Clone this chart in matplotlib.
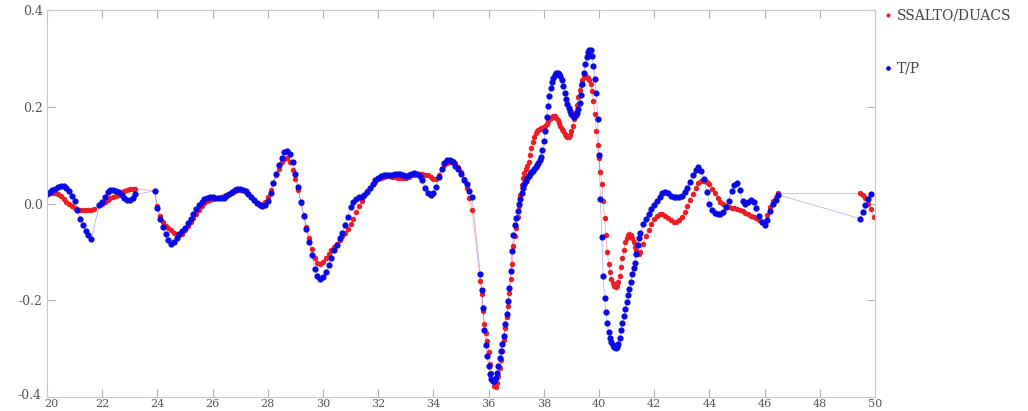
import numpy as np
import matplotlib
matplotlib.use("Agg")
import matplotlib.pyplot as plt
from matplotlib.transforms import ScaledTranslation

plt.rcParams['font.family'] = ['DejaVu Serif', 'Liberation Serif']
plt.rcParams['axes.unicode_minus'] = False

# along-track segments: start latitude and spacing (deg)
seg_start = [20.0, 21.9, 23.9, 35.7, 41.6, 49.45]
seg_step = [0.1, 0.1, 0.1, 0.05, 0.1, 0.1]

# SSALTO/DUACS sea level anomaly (m), one list per segment
duacs_1 = [0.020, 0.022, 0.022, 0.021, 0.019, 0.016, 0.010, 0.004, -0.002, -0.006,
           -0.009, -0.011, -0.013, -0.013, -0.014, -0.013, -0.013, -0.012]
duacs_2 = [-0.003, 0.000, 0.004, 0.008, 0.011, 0.014, 0.016, 0.018, 0.022, 0.026,
           0.028, 0.030, 0.031, 0.031]
duacs_3 = [0.026, -0.005, -0.025, -0.038, -0.046, -0.050, -0.055, -0.060, -0.064, -0.066,
           -0.062, -0.055, -0.047, -0.039, -0.030, -0.021, -0.013, -0.005, 0.001, 0.005,
           0.008, 0.010, 0.011, 0.012, 0.014, 0.016, 0.017, 0.019, 0.022, 0.025,
           0.027, 0.028, 0.027, 0.024, 0.019, 0.013, 0.007, 0.002, -0.002, -0.003,
           0.003, 0.014, 0.028, 0.043, 0.058, 0.072, 0.085, 0.093, 0.094, 0.086,
           0.070, 0.050, 0.027, 0.002, -0.024, -0.048, -0.072, -0.094, -0.112, -0.122,
           -0.125, -0.121, -0.113, -0.105, -0.097, -0.090, -0.083, -0.076, -0.068, -0.060,
           -0.052, -0.043, -0.032, -0.018, -0.006, 0.006, 0.017, 0.026, 0.033, 0.040,
           0.045, 0.050, 0.053, 0.055, 0.056, 0.056, 0.055, 0.054, 0.053, 0.052,
           0.052, 0.053, 0.055, 0.058, 0.060, 0.062, 0.062, 0.062, 0.060, 0.058,
           0.055, 0.050, 0.050, 0.060, 0.072, 0.080, 0.084, 0.086, 0.087, 0.084,
           0.076, 0.065, 0.050, 0.033, 0.012, -0.013]
duacs_4 = [-0.160, -0.186, -0.222, -0.250, -0.268, -0.285, -0.307, -0.331, -0.350, -0.366,
           -0.377, -0.379, -0.370, -0.356, -0.340, -0.324, -0.305, -0.282, -0.258, -0.235,
           -0.212, -0.185, -0.155, -0.124, -0.088, -0.068, -0.050, -0.028, -0.005, 0.018,
           0.038, 0.053, 0.063, 0.071, 0.078, 0.086, 0.100, 0.115, 0.128, 0.138,
           0.145, 0.150, 0.152, 0.154, 0.156, 0.157, 0.158, 0.160, 0.165, 0.170,
           0.174, 0.177, 0.179, 0.181, 0.181, 0.177, 0.172, 0.166, 0.161, 0.155,
           0.149, 0.143, 0.139, 0.137, 0.138, 0.142, 0.149, 0.160, 0.175, 0.190,
           0.204, 0.220, 0.235, 0.246, 0.255, 0.261, 0.263, 0.262, 0.259, 0.256,
           0.248, 0.232, 0.212, 0.185, 0.150, 0.120, 0.095, 0.065, 0.040, 0.005,
           -0.030, -0.065, -0.100, -0.125, -0.142, -0.155, -0.165, -0.171, -0.173, -0.171,
           -0.162, -0.150, -0.132, -0.113, -0.097, -0.080, -0.072, -0.065, -0.062, -0.065,
           -0.072, -0.080, -0.089, -0.097, -0.103, -0.104, -0.100]
duacs_5 = [-0.083, -0.067, -0.054, -0.042, -0.033, -0.025, -0.021, -0.021, -0.025, -0.029,
           -0.034, -0.038, -0.038, -0.035, -0.028, -0.018, -0.006, 0.008, 0.020, 0.033,
           0.042, 0.046, 0.046, 0.044, 0.040, 0.031, 0.021, 0.011, 0.004, -0.001,
           -0.005, -0.008, -0.009, -0.010, -0.011, -0.013, -0.016, -0.019, -0.022, -0.025,
           -0.027, -0.030, -0.034, -0.038, -0.038, -0.024, -0.008, 0.005, 0.014, 0.021]
duacs_6 = [0.021, 0.018, 0.012, 0.000, -0.012, -0.027]

# T/P sea level anomaly (m)
tp_1 = [0.020, 0.024, 0.028, 0.031, 0.034, 0.036, 0.036, 0.032, 0.026, 0.016,
        0.005, -0.014, -0.031, -0.045, -0.057, -0.066, -0.073]
tp_2 = [-0.003, 0.004, 0.014, 0.024, 0.028, 0.028, 0.026, 0.023, 0.018, 0.012,
        0.008, 0.007, 0.012, 0.019]
tp_3 = [0.026, -0.010, -0.033, -0.048, -0.064, -0.076, -0.083, -0.080, -0.072, -0.064,
        -0.057, -0.050, -0.041, -0.032, -0.022, -0.012, -0.004, 0.004, 0.009, 0.012,
        0.014, 0.014, 0.012, 0.011, 0.011, 0.012, 0.016, 0.020, 0.024, 0.027,
        0.029, 0.030, 0.028, 0.025, 0.020, 0.014, 0.007, 0.001, -0.004, -0.006,
        -0.003, 0.005, 0.022, 0.043, 0.062, 0.080, 0.095, 0.106, 0.109, 0.102,
        0.085, 0.062, 0.035, 0.003, -0.025, -0.052, -0.080, -0.106, -0.135, -0.150,
        -0.157, -0.152, -0.142, -0.128, -0.113, -0.097, -0.085, -0.072, -0.060, -0.045,
        -0.027, -0.008, 0.004, 0.010, 0.013, 0.014, 0.017, 0.024, 0.032, 0.041,
        0.048, 0.053, 0.057, 0.059, 0.059, 0.059, 0.060, 0.061, 0.062, 0.061,
        0.058, 0.056, 0.058, 0.061, 0.063, 0.062, 0.057, 0.048, 0.033, 0.021,
        0.017, 0.022, 0.035, 0.054, 0.072, 0.083, 0.089, 0.090, 0.086, 0.078,
        0.072, 0.062, 0.049, 0.040, 0.026, 0.014]
tp_4 = [-0.145, -0.178, -0.215, -0.262, -0.292, -0.315, -0.335, -0.352, -0.362, -0.367,
        -0.366, -0.360, -0.350, -0.336, -0.320, -0.305, -0.290, -0.273, -0.250, -0.228,
        -0.202, -0.175, -0.140, -0.098, -0.066, -0.044, -0.030, -0.015, 0.000, 0.010,
        0.022, 0.033, 0.041, 0.047, 0.053, 0.057, 0.061, 0.065, 0.068, 0.072,
        0.076, 0.080, 0.084, 0.089, 0.096, 0.110, 0.130, 0.150, 0.178, 0.202,
        0.222, 0.238, 0.251, 0.260, 0.266, 0.270, 0.270, 0.268, 0.263, 0.255,
        0.242, 0.229, 0.217, 0.206, 0.198, 0.192, 0.186, 0.181, 0.179, 0.182,
        0.188, 0.196, 0.208, 0.224, 0.248, 0.270, 0.288, 0.302, 0.313, 0.318,
        0.317, 0.306, 0.285, 0.258, 0.228, 0.175, 0.100, 0.010, -0.070, -0.150,
        -0.195, -0.225, -0.248, -0.266, -0.277, -0.287, -0.293, -0.297, -0.298, -0.296,
        -0.290, -0.279, -0.262, -0.246, -0.232, -0.218, -0.204, -0.190, -0.177, -0.162,
        -0.146, -0.134, -0.122, -0.105, -0.085, -0.072, -0.060]
tp_5 = [-0.042, -0.031, -0.022, -0.012, -0.003, 0.005, 0.014, 0.021, 0.024, 0.022,
        0.016, 0.013, 0.013, 0.014, 0.016, 0.024, 0.033, 0.045, 0.060, 0.070,
        0.075, 0.068, 0.050, 0.024, 0.000, -0.013, -0.020, -0.022, -0.022, -0.018,
        -0.008, 0.006, 0.025, 0.038, 0.042, 0.028, 0.006, -0.001, 0.004, 0.007,
        0.004, -0.010, -0.026, -0.038, -0.044, -0.034, -0.016, -0.002, 0.008, 0.018]
tp_6 = [-0.031, -0.018, -0.003, 0.010, 0.020]


def track(segments):
    lat, sla = [], []
    for s0, ds, vals in zip(seg_start, seg_step, segments):
        lat.extend(np.round(s0 + ds * np.arange(len(vals)), 3))
        sla.extend(vals)
    return np.array(lat), np.array(sla)


lat_d, sla_d = track([duacs_1, duacs_2, duacs_3, duacs_4, duacs_5, duacs_6])
lat_t, sla_t = track([tp_1, tp_2, tp_3, tp_4, tp_5, tp_6])

red = '#ee1c24'
blue = '#0a0ae6'

fig = plt.figure(figsize=(10.28, 4.11), dpi=100)
ax = fig.add_axes([0.0457, 0.034, 0.8055, 0.9416])

ax.plot(lat_d, sla_d, '-', color=red, lw=0.5, alpha=0.45)
ax.plot(lat_t, sla_t, '-', color=blue, lw=0.5, alpha=0.35)
ax.plot(lat_d, sla_d, 'o', color=red, ms=3.9, mew=0, label='SSALTO/DUACS')
ax.plot(lat_t, sla_t, 'o', color=blue, ms=4.5, mew=0, label='T/P')

ax.set_xlim(20, 50)
ax.set_ylim(-0.4, 0.4)
ax.set_xticks(np.arange(20, 51, 2))
ax.set_yticks([-0.4, -0.2, 0.0, 0.2, 0.4])
ax.yaxis.set_major_formatter(matplotlib.ticker.FormatStrFormatter('%.1f'))
ax.tick_params(direction='in', length=6, width=0.8, color='#b0b0b0',
               labelsize=9, labelcolor='#555555', top=True, right=True, pad=3)
ax.tick_params(axis='x', labelsize=8, pad=1.5)
for sp in ax.spines.values():
    sp.set_color('#c8c8c8')
    sp.set_linewidth(0.8)

# corner labels: keep "-0.4" and "20" apart
fig.canvas.draw()
lab_y = ax.get_yticklabels()[0]
lab_y.set_transform(lab_y.get_transform() + ScaledTranslation(-0.01, 0.03, fig.dpi_scale_trans))
lab_x = ax.get_xticklabels()[0]
lab_x.set_transform(lab_x.get_transform() + ScaledTranslation(0.04, 0, fig.dpi_scale_trans))

leg = ax.legend(loc='upper left', bbox_to_anchor=(1.0, 1.025), frameon=False,
                fontsize=10, handlelength=0.6, handletextpad=0.4,
                labelspacing=2.8, borderaxespad=0.2, markerscale=0.75)
for t in leg.get_texts():
    t.set_color('#444444')

fig.savefig('out.png', dpi=100)
